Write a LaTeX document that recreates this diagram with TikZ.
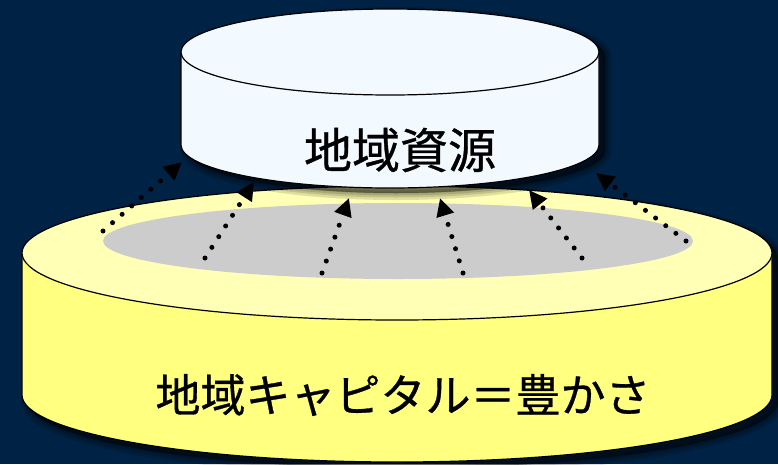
\documentclass[tikz,border=0pt]{standalone}
\usepackage{fontspec}
\newfontfamily\jpfont[FakeBold=0.7]{Noto Sans CJK JP}
\usetikzlibrary{arrows.meta}
\definecolor{bg}{RGB}{0,35,69}
\definecolor{ytop}{RGB}{255,255,181}
\definecolor{yside}{RGB}{255,255,128}
\definecolor{wtop}{RGB}{242,249,255}
\definecolor{grayin}{RGB}{204,204,204}
\tikzset{
  outline/.style={draw=black,line width=1.2pt},
  flow/.style={line width=5pt,line cap=round,dash pattern=on 0pt off 12.7pt,
    -{Triangle[length=18pt,width=17pt]}},
  lbl/.style={font=\jpfont, text=black, inner sep=0pt}
}
\begin{document}
\begin{tikzpicture}[x=1pt,y=-1pt]
\fill[bg] (0,0) rectangle (778,464);
\useasboundingbox (0,0) rectangle (778,464);

% ---- big cylinder shadow
\foreach \w in {14,9,5,1}{
  \filldraw[black,opacity=0.13,line width=\w pt,line join=round]
    (28,259) -- (28,401) arc[start angle=180,end angle=0,x radius=375,y radius=67]
    -- (778,259) arc[start angle=0,end angle=-180,x radius=375,y radius=67] -- cycle;
}
% ---- big cylinder
\fill[yside] (22,253) -- (22,395) arc[start angle=180,end angle=0,x radius=375,y radius=67]
  -- (772,253) -- cycle;
\draw[outline] (22,253) -- (22,395) arc[start angle=180,end angle=0,x radius=375,y radius=67]
  -- (772,253);
\filldraw[outline,fill=ytop] (397,253) ellipse[x radius=375,y radius=67];
\fill[grayin] (398,241) ellipse[x radius=295,y radius=38];

% ---- top cylinder shadow
\foreach \w in {14,9,5,1}{
  \filldraw[black,opacity=0.13,line width=\w pt,line join=round]
    (187,57) -- (187,150) arc[start angle=180,end angle=0,x radius=209,y radius=43]
    -- (605,57) arc[start angle=0,end angle=-180,x radius=209,y radius=43] -- cycle;
}
% ---- top cylinder
\fill[wtop] (181,52) -- (181,145) arc[start angle=180,end angle=0,x radius=209,y radius=43]
  -- (599,52) -- cycle;
\draw[outline] (181,52) -- (181,145) arc[start angle=180,end angle=0,x radius=209,y radius=43]
  -- (599,52);
\filldraw[outline,fill=wtop] (390,52) ellipse[x radius=209,y radius=43];

% ---- labels
\node[lbl,font=\jpfont\fontsize{48}{52}\selectfont] (res) at (400,150) {地域資源};
\node[lbl,font=\jpfont\fontsize{45}{50}\selectfont] (cap) at (403,395) {地域キャピタル＝豊かさ};

% ---- arrows
\coordinate (s1) at (103,231); \coordinate (e1) at (182,162);
\coordinate (s2) at (205,258); \coordinate (e2) at (254,182);
\coordinate (s3) at (322,273); \coordinate (e3) at (349,198);
\coordinate (s4) at (463,273); \coordinate (e4) at (440,198);
\coordinate (s5) at (582,258); \coordinate (e5) at (529,190);
\coordinate (s6) at (686,241); \coordinate (e6) at (596,173);
\foreach \i in {1,...,6}{ \draw[flow] (s\i) -- (e\i); }
\end{tikzpicture}
\end{document}
